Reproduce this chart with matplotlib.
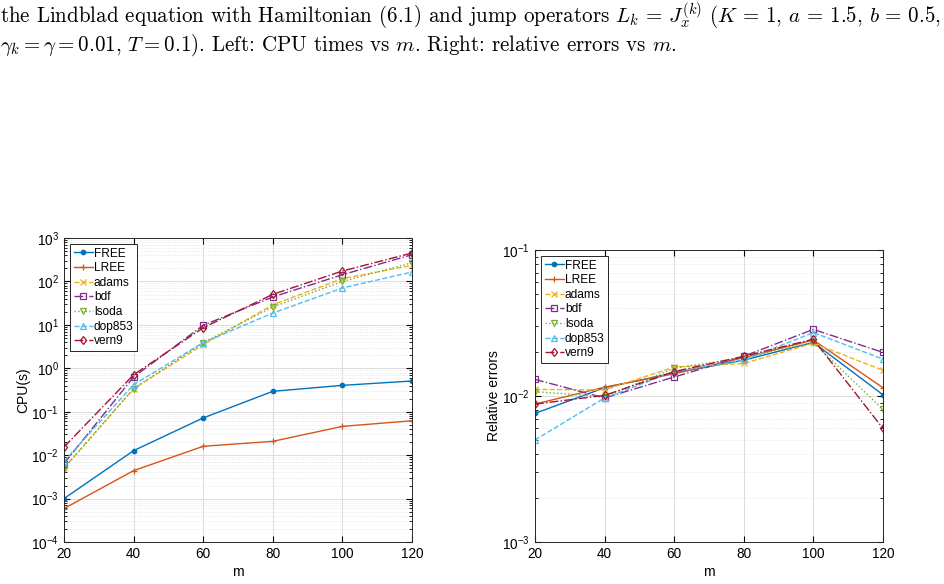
import numpy as np
import matplotlib
matplotlib.use("Agg")
import matplotlib.pyplot as plt
from matplotlib.ticker import LogLocator, NullFormatter

plt.rcParams['font.family'] = ['Liberation Sans', 'DejaVu Sans']

m = [20, 40, 60, 80, 100, 120]
methods = ['FREE', 'LREE', 'adams', 'bdf', 'lsoda', 'dop853', 'vern9']

# CPU times (s)
cpu_free = [1.0e-3, 0.0127, 0.072, 0.295, 0.405, 0.51]
cpu_lree = [5.9e-4, 0.0044, 0.016, 0.0208, 0.046, 0.062]
cpu_adams = [0.0051, 0.34, 3.5, 29, 116, 235]
cpu_bdf = [0.0064, 0.63, 9.8, 44, 143, 413]
cpu_lsoda = [0.0049, 0.34, 3.9, 25.8, 100, 270]
cpu_dop853 = [0.0072, 0.42, 3.9, 18.7, 70.6, 165]
cpu_vern9 = [0.0154, 0.71, 8.6, 50.5, 174, 452]

# relative errors
err_free = [0.0076, 0.0114, 0.0144, 0.0176, 0.0233, 0.0102]
err_lree = [0.0088, 0.0115, 0.0142, 0.0183, 0.0242, 0.0114]
err_adams = [0.0111, 0.0110, 0.0158, 0.0167, 0.0230, 0.0150]
err_bdf = [0.0130, 0.0097, 0.0135, 0.0187, 0.0286, 0.0199]
err_lsoda = [0.0107, 0.0099, 0.0155, 0.0183, 0.0233, 0.0081]
err_dop853 = [0.0050, 0.0097, 0.0147, 0.0176, 0.0272, 0.0179]
err_vern9 = [0.0088, 0.0101, 0.0147, 0.0187, 0.0245, 0.0060]

cpu = [cpu_free, cpu_lree, cpu_adams, cpu_bdf, cpu_lsoda, cpu_dop853, cpu_vern9]
err = [err_free, err_lree, err_adams, err_bdf, err_lsoda, err_dop853, err_vern9]

colors = ['#0072BD', '#D95319', '#EDB120', '#7E2F8E', '#77AC30', '#4DBEEE', '#A2142F']
styles = ['-', '-', '--', '-.', ':', '--', '-.']
markers = ['o', '+', 'x', 's', 'v', '^', 'd']

fig = plt.figure(figsize=(9.44, 5.84), dpi=100)

cap1 = (r'the Lindblad equation with Hamiltonian (6.1) and jump operators $L_k\,=\,J_x^{(k)}$ '
        r'($K\,=\,1$, $a\,=\,1.5$, $b\,=\,0.5$,')
cap2 = (r'$\gamma_k=\gamma=0.01$, $T=0.1$). Left: CPU times vs $m$. Right: relative errors vs $m$.')
fig.text(0.0, 0.998, cap1, fontsize=15.1, family='cmr10', math_fontfamily='cm', va='top', ha='left')
fig.text(0.0, 0.944, cap2, fontsize=15.1, family='cmr10', math_fontfamily='cm', va='top', ha='left')

ax1 = fig.add_axes([0.0678, 0.0719, 0.3686, 0.5205])
ax2 = fig.add_axes([0.5667, 0.0719, 0.3686, 0.5000])


def draw(ax, data, ylim, ylabel):
    for name, y, c, ls, mk in zip(methods, data, colors, styles, markers):
        filled = mk in ('o', '+', 'x')
        ax.plot(m, y, linestyle=ls, marker=mk, color=c, lw=1.0,
                markersize=3.2 if mk == 'o' else 4.5,
                markerfacecolor=c if filled else 'none',
                markeredgewidth=0.9, label=name)
    ax.set_yscale('log')
    ax.set_xlim(20, 120)
    ax.set_ylim(*ylim)
    ax.set_xticks(m)
    ax.yaxis.set_minor_locator(LogLocator(base=10, subs=np.arange(2, 10), numticks=20))
    ax.yaxis.set_minor_formatter(NullFormatter())
    ax.grid(True, which='major', color='#dcdcdc', lw=0.7)
    ax.grid(True, which='minor', axis='y', color='#e2e2e2', lw=0.6, ls=':')
    ax.tick_params(which='both', direction='in', top=True, right=True, labelsize=9.8)
    ax.tick_params(which='major', length=4)
    ax.tick_params(which='minor', length=2)
    for s in ax.spines.values():
        s.set_color('#262626')
        s.set_linewidth(0.7)
    ax.set_xlabel('m', fontsize=10, labelpad=3)
    ax.set_ylabel(ylabel, fontsize=10, labelpad=1)
    leg = ax.legend(loc='upper left', fontsize=8.6, fancybox=False, edgecolor='#262626',
                    framealpha=1, handlelength=1.6, handletextpad=0.1,
                    labelspacing=0.22, borderpad=0.3, borderaxespad=0.5)
    leg.get_frame().set_linewidth(0.7)


draw(ax1, cpu, (1e-4, 1e3), 'CPU(s)')
draw(ax2, err, (1e-3, 1e-1), 'Relative errors')

fig.savefig('out.png', dpi=100)
